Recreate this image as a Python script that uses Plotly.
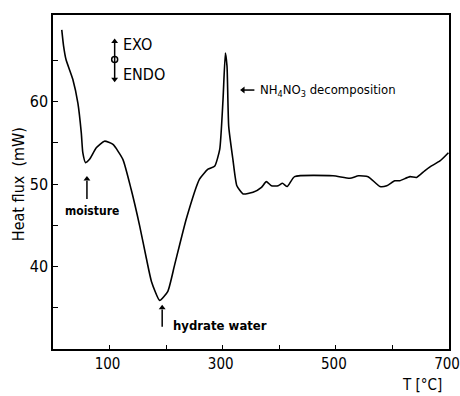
import plotly.graph_objects as go

temperature = [15.5, 18.6, 23, 35, 44, 50, 52.7, 57.5, 64.6, 76.5, 91, 106, 123.5, 138, 153, 165, 174,
               188.5, 203, 215, 235.7, 259, 274, 286, 294.7, 300.5, 304.7, 307.6, 310.6, 318, 325, 336,
               353.6, 368.5, 377, 386, 398, 405.6, 414, 427, 495, 524.8, 540, 557, 578, 590, 604, 613,
               631, 642.6, 657, 669, 684, 699]
heat_flux = [68.7, 66.8, 65.1, 62.7, 59.8, 56.2, 53.8, 52.6, 53.0, 54.4, 55.2, 54.8, 53.0, 49.4, 45.0,
             41.0, 38.2, 35.9, 37.0, 40.2, 45.8, 50.6, 51.8, 52.2, 54.2, 60.2, 65.9, 64.3, 57.0, 53.0,
             49.8, 48.8, 49.0, 49.6, 50.3, 49.8, 49.8, 50.1, 49.7, 50.9, 51.0, 50.7, 51.0, 50.9, 49.7,
             49.8, 50.4, 50.4, 50.9, 50.8, 51.6, 52.2, 52.8, 53.8]

x_tickvals = [100, 300, 500, 700]
x_minor = [200, 400, 600]
y_tickvals = [40, 50, 60]
y_minor = [35, 45, 55, 65]

FONT = "DejaVu Sans Condensed"

fig = go.Figure()
fig.add_trace(go.Scatter(x=temperature, y=heat_flux, mode="lines",
                         line=dict(color="black", width=1.6, shape="spline", smoothing=0.5),
                         hoverinfo="skip", showlegend=False))

fig.update_layout(
    width=460, height=396,
    margin=dict(l=53, r=11, t=15, b=47, autoexpand=False),
    paper_bgcolor="white", plot_bgcolor="white",
    font=dict(family=FONT, color="black", size=15),
    xaxis=dict(range=[0, 700], tickvals=x_tickvals, ticks="inside", ticklen=4, tickwidth=1.2,
               tickcolor="black", showline=True, linecolor="black", linewidth=1.5, mirror=True,
               showgrid=False, zeroline=False, tickfont=dict(size=15, family=FONT),
               ticklabeloverflow="allow", automargin=False, ticklabelshift=-2,
               minor=dict(tickvals=x_minor, ticks="inside", ticklen=4, tickwidth=1.2, tickcolor="black")),
    yaxis=dict(range=[30, 70.5], tickvals=y_tickvals, ticks="inside", ticklen=5, tickwidth=1.2,
               tickcolor="black", showline=True, linecolor="black", linewidth=1.5, mirror=True,
               showgrid=False, zeroline=False, tickfont=dict(size=16, family=FONT), automargin=False,
               minor=dict(tickvals=y_minor, ticks="inside", ticklen=5, tickwidth=1.2, tickcolor="black")),
)

ann = []
ann.append(dict(text="Heat flux  (mW)", xref="paper", yref="paper", x=-0.088, y=0.494,
                xanchor="center", yanchor="middle",
                textangle=-90, showarrow=False, font=dict(size=16, family=FONT)))
ann.append(dict(text="T [°C]", xref="paper", yref="paper", x=0.932, y=-0.108,
                xanchor="center", yanchor="middle",
                showarrow=False, font=dict(size=15, family=FONT)))
ann.append(dict(text="EXO", x=120, y=66.9, xref="x", yref="y", xanchor="left", showarrow=False,
                font=dict(size=16, family=FONT)))
ann.append(dict(text="ENDO", x=120, y=63.3, xref="x", yref="y", xanchor="left", showarrow=False,
                font=dict(size=16, family=FONT)))
ann.append(dict(text="NH<sub>4</sub>NO<sub>3</sub> decomposition", x=363, y=61.4, xref="x", yref="y",
                xanchor="left", showarrow=False, font=dict(size=13, family=FONT)))
ann.append(dict(text="<b>moisture</b>", x=69, y=46.7, xref="x", yref="y", showarrow=False,
                font=dict(size=12, family=FONT)))
ann.append(dict(text="<b>hydrate water</b>", x=209, y=32.9, xref="x", yref="y", xanchor="left",
                showarrow=False, font=dict(size=13, family=FONT)))
fig.update_layout(annotations=ann)

# arrow shafts (x0, y0, x1, y1) in data units
shafts = [
    (109, 62.8, 109, 67.2),   # EXO/ENDO
    (337, 61.4, 356, 61.4),   # decomposition
    (60, 48.2, 60, 50.4),     # moisture
    (193, 32.7, 193, 34.8),   # hydrate water
]
for x0, y0, x1, y1 in shafts:
    fig.add_shape(type="line", x0=x0, y0=y0, x1=x1, y1=y1, xref="x", yref="y",
                  line=dict(color="black", width=1.5))

# arrowheads
heads = [
    (109, 67.3, "triangle-up"),
    (109, 62.7, "triangle-down"),
    (336, 61.4, "triangle-left"),
    (60, 50.6, "triangle-up"),
    (193, 35.0, "triangle-up"),
]
for hx, hy, sym in heads:
    fig.add_trace(go.Scatter(x=[hx], y=[hy], mode="markers",
                             marker=dict(symbol=sym, size=6, color="black"),
                             hoverinfo="skip", showlegend=False))

# small circle at center of EXO/ENDO symbol
fig.add_trace(go.Scatter(x=[109], y=[65.1], mode="markers",
                         marker=dict(symbol="circle", size=6, color="white",
                                     line=dict(width=1.5, color="black")),
                         hoverinfo="skip", showlegend=False))

fig.write_html("out.html")
